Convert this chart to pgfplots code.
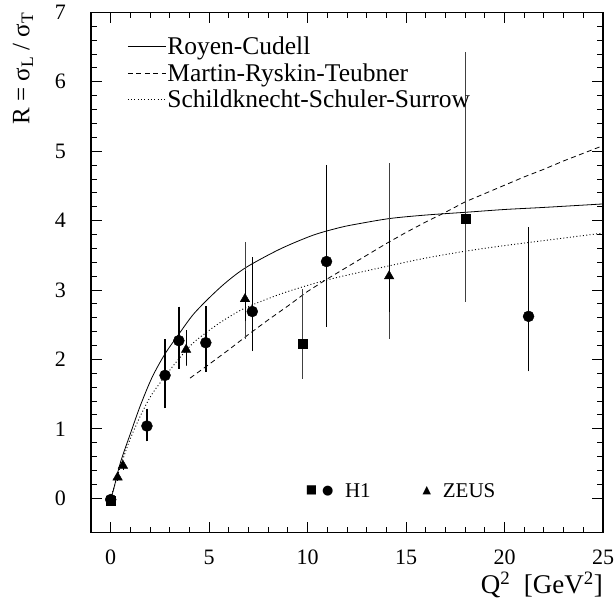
\documentclass[border=0pt]{standalone}
\usepackage{fontspec}
\setmainfont{Liberation Serif}
\newfontfamily\symfont{DejaVu Sans}
\usepackage{pgfplots}
\pgfplotsset{compat=1.18}

\begin{document}
\begin{tikzpicture}
\begin{axis}[
  scale only axis, width=512pt, height=520.5pt,
  xmin=-1, xmax=25, ymin=-0.5, ymax=7,
  xtick={0,5,...,25}, ytick={0,1,...,7},
  minor x tick num=4, minor y tick num=4,
  tick align=inside, major tick length=11pt, minor tick length=6pt,
  every tick/.style={black, line width=0.9pt},
  axis line style={line width=1.2pt},
  /pgf/number format/assume math mode=true,
  tick label style={font=\fontsize{22}{24}\selectfont},
  xticklabel style={inner sep=0pt, yshift=-17pt},
  yticklabel style={inner sep=0pt, xshift=-25pt},
  xlabel={Q\textsuperscript{2}\ \ [GeV\textsuperscript{2}]},
  xlabel style={at={(axis description cs:1,0)}, anchor=north east, yshift=-39pt, inner sep=0pt, font=\fontsize{27}{30}\selectfont},
  ylabel={R = σ\textsubscript{L} / σ\textsubscript{T}},
  ylabel style={at={(axis description cs:-0.133,1)}, anchor=east, inner sep=0pt, font=\fontsize{25}{28}\selectfont},
  legend style={draw=none, fill=none, at={(axis cs:0.84,6.66)}, anchor=north west, inner sep=0pt,
     font=\fontsize{25.5}{28}\selectfont, row sep=5pt, nodes={inner sep=1pt}},
  legend cell align=left,
  legend image code/.code={\draw[#1] (0pt,0pt) -- (38pt,0pt);},
]
% theory curves
\addplot[black, line width=0.8pt, smooth] coordinates {
 (0,0) (0.14,0.12) (0.5,0.52) (1.0,0.93) (1.5,1.33) (2.1,1.74) (2.76,2.08) (3.5,2.38)
 (4.2,2.65) (5.05,2.9) (5.9,3.12) (6.9,3.33) (8.6,3.59) (10.28,3.79) (11.64,3.90)
 (12.5,3.95) (14.17,4.03) (16,4.08) (18.03,4.12) (20,4.16) (22,4.19) (25,4.24)};
\addlegendentry{Royen-Cudell}
\addplot[black, line width=0.8pt, dash pattern=on 5pt off 3.5pt] coordinates {
 (4.03,1.73) (5,1.93) (6,2.14) (7,2.36) (8,2.57) (9,2.77) (10,2.98) (11,3.16) (12,3.33)
 (13,3.50) (14,3.67) (15,3.83) (16,3.98) (17,4.12) (18,4.27) (19,4.39) (20,4.51)
 (21,4.63) (22,4.74) (23,4.86) (24,4.97) (25,5.08)};
\addlegendentry{Martin-Ryskin-Teubner}
\addplot[black, line width=0.9pt, dash pattern=on 1pt off 2.3pt, smooth] coordinates {
 (0,0) (0.5,0.46) (1.0,0.86) (1.6,1.24) (2.1,1.50) (2.85,1.79) (3.5,2.02) (4.2,2.24)
 (5.2,2.46) (6.0,2.61) (6.9,2.75) (8.6,2.94) (10.28,3.09) (11.64,3.19) (14.17,3.35)
 (16,3.46) (18.03,3.56) (20,3.64) (22.5,3.73) (25,3.82)};
\addlegendentry{Schildknecht-Schuler-Surrow}

% H1 squares: total errors (thin grey, no caps)
\addplot[forget plot, only marks, mark=square*, mark size=4.5pt, black,
  error bars/.cd, y dir=both, y explicit, error mark=none,
  error bar style={line width=0.8pt, black!75}]
 table[x=x, y=y, y error plus=ep, y error minus=em] {
 x y ep em
 0.02 -0.04 0 0
 9.73 2.22 0.80 0.50
 18.03 4.03 2.40 1.21
};
% ZEUS triangles: total errors (thin grey, no caps)
\addplot[forget plot, only marks, mark=none,
  error bars/.cd, y dir=both, y explicit, error mark=none,
  error bar style={line width=0.8pt, black!75}]
 table[x=x, y=y, y error plus=ep, y error minus=em] {
 x y ep em
 3.83 2.14 0.24 0.23
 6.82 2.87 0.82 0.58
 14.14 3.20 1.63 0.91
};
% ZEUS triangles: stat errors (thin black, caps)
\addplot[forget plot, only marks, mark=triangle*, mark size=5.5pt, black,
  error bars/.cd, y dir=both, y explicit,
  error bar style={line width=0.8pt, black},
  error mark options={line width=0.8pt, mark size=4pt, black}]
 table[x=x, y=y, y error plus=ep, y error minus=em] {
 x y ep em
 0.35 0.30 0 0
 0.62 0.47 0 0
 3.83 2.14 0.22 0.16
 6.82 2.87 0.34 0.26
 14.14 3.20 0.61 0.46
};
% H1 circles: total errors (thick, no caps)
\addplot[forget plot, only marks, mark=none,
  error bars/.cd, y dir=both, y explicit, error mark=none,
  error bar style={line width=1.5pt, black}]
 table[x=x, y=y, y error plus=ep, y error minus=em] {
 x y ep em
 3.46 2.27 0.42 0.36
 7.19 2.69 0.76 0.50
 10.96 3.41 1.32 0.94
};
\addplot[forget plot, only marks, mark=none,
  error bars/.cd, y dir=both, y explicit,
  error bar style={line width=1.2pt, black},
  error mark options={line width=1.2pt, mark size=5pt, black}]
 table[x=x, y=y, y error plus=ep, y error minus=em] {
 x y ep em
 2.76 1.77 0.45 0.40
};
% H1 circles: stat errors (thick, caps)
\addplot[forget plot, only marks, mark=*, mark size=5.5pt, black,
  error bars/.cd, y dir=both, y explicit,
  error bar style={line width=1.5pt, black},
  error mark options={line width=1.5pt, mark size=5pt, black}]
 table[x=x, y=y, y error plus=ep, y error minus=em] {
 x y ep em
 0.0 -0.02 0 0
 1.84 1.04 0.18 0.15
 2.76 1.77 0.36 0.29
 3.46 2.27 0.42 0.33
 4.83 2.24 0.46 0.35
 7.19 2.69 0.71 0.50
 10.96 3.41 1.32 0.82
 21.22 2.62 1.21 0.72
};

% experiment key
\node[inner sep=0pt] at (axis cs:10.2,0.107) {\symfont\fontsize{12}{12}\selectfont ■};
\node[inner sep=0pt] at (axis cs:11.03,0.107) {\symfont\fontsize{13}{13}\selectfont ●};
\node[anchor=west, inner sep=0pt, font=\fontsize{21}{21}\selectfont] at (axis cs:11.89,0.107) {H1};
\node[inner sep=0pt] at (axis cs:16.05,0.107) {\symfont\fontsize{11}{11}\selectfont ▲};
\node[anchor=west, inner sep=0pt, font=\fontsize{21}{21}\selectfont] at (axis cs:16.86,0.107) {ZEUS};
\end{axis}
\path (current axis.south west) ++(-91pt,-72pt) coordinate (bl);
\path (current axis.north east) ++(11pt,12.4pt) coordinate (tr);
\path (bl) rectangle (tr);
\end{tikzpicture}
\end{document}
